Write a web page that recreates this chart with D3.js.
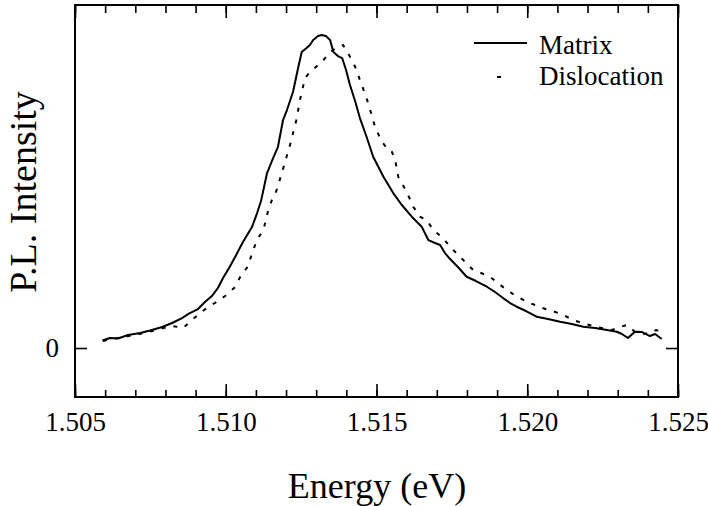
<!DOCTYPE html>
<html>
<head>
<meta charset="utf-8">
<script src="https://cdn.jsdelivr.net/npm/d3@7"></script>
<style>
  body { margin: 0; background: #fff; }
  svg text { font-family: "Liberation Serif", "DejaVu Serif", serif; fill: #000; }
</style>
</head>
<body>
<svg id="chart" width="708" height="506"></svg>
<script>
/* values (energy in eV, intensity in arbitrary units, peak ~100) */
const matrixEnergy = [
  1.50591, 1.50616, 1.50643, 1.50676, 1.50716, 1.50749, 1.50789, 1.50822, 1.50855, 1.50881,
  1.50908, 1.50931, 1.50954, 1.50974, 1.50991, 1.51011, 1.51031, 1.51057, 1.51087, 1.51104,
  1.51117, 1.51137, 1.51157, 1.51173, 1.51190, 1.51203, 1.51223, 1.51240, 1.51252, 1.51268,
  1.51279, 1.51290, 1.51306, 1.51318, 1.51332, 1.51346, 1.51357, 1.51372, 1.51386, 1.51399,
  1.51412, 1.51429, 1.51445, 1.51467, 1.51489, 1.51523, 1.51556, 1.51584, 1.51617, 1.51650,
  1.51672, 1.51694, 1.51711, 1.51727, 1.51744, 1.51770, 1.51799, 1.51830, 1.51866, 1.51893,
  1.51921, 1.51943, 1.51965, 1.51996, 1.52031, 1.52069, 1.52109, 1.52148, 1.52186, 1.52225,
  1.52264, 1.52297, 1.52314, 1.52334, 1.52357, 1.52381, 1.52407, 1.52424, 1.52446
];
const matrixIntensity = [
  2.40, 3.19, 3.04, 4.15, 4.79, 5.59, 6.71, 7.99, 9.58, 11.18,
  12.46, 14.70, 16.61, 19.17, 22.36, 25.56, 29.07, 33.87, 38.66, 43.13,
  46.96, 55.91, 60.70, 64.22, 72.84, 76.04, 81.79, 89.46, 94.57, 95.85,
  96.81, 98.40, 99.68, 100.0, 99.68, 98.40, 94.57, 93.29, 92.65, 88.82,
  84.03, 78.91, 73.48, 67.51, 61.12, 54.73, 49.43, 45.69, 41.95, 38.75,
  34.50, 33.55, 32.91, 30.35, 28.43, 25.88, 22.78, 21.41, 19.58, 17.89,
  15.88, 14.38, 13.19, 11.82, 10.00, 9.27, 8.40, 7.67, 6.81, 6.39,
  5.75, 5.21, 4.47, 3.19, 5.21, 5.11, 3.83, 4.47, 2.88
];
const dislocationEnergy = [
  1.50593, 1.50623, 1.50656, 1.50699, 1.50742, 1.50782, 1.50822, 1.50842, 1.50858, 1.50881,
  1.50892, 1.50915, 1.50941, 1.50964, 1.50998, 1.51031, 1.51051, 1.51064, 1.51070, 1.51087,
  1.51103, 1.51125, 1.51141, 1.51153, 1.51167, 1.51187, 1.51213, 1.51235, 1.51246, 1.51263,
  1.51279, 1.51299, 1.51324, 1.51346, 1.51366, 1.51389, 1.51409, 1.51429, 1.51445, 1.51467,
  1.51482, 1.51495, 1.51515, 1.51534, 1.51548, 1.51561, 1.51572, 1.51600, 1.51622, 1.51644,
  1.51667, 1.51688, 1.51716, 1.51749, 1.51777, 1.51804, 1.51821, 1.51847, 1.51876, 1.51903,
  1.51932, 1.51963, 1.51998, 1.52026, 1.52053, 1.52085, 1.52120, 1.52152, 1.52186, 1.52218,
  1.52252, 1.52281, 1.52308, 1.52330, 1.52357, 1.52381, 1.52407, 1.52427, 1.52446
];
const dislocationIntensity = [
  2.24, 2.88, 3.51, 4.15, 5.11, 6.07, 7.03, 6.71, 6.39, 8.31,
  9.27, 11.18, 13.10, 14.38, 16.61, 19.49, 23.32, 24.92, 25.56, 30.03,
  34.50, 37.70, 44.09, 47.28, 49.94, 56.23, 64.86, 73.16, 79.23, 86.26,
  88.18, 89.78, 92.01, 94.57, 95.85, 96.81, 93.61, 89.87, 85.62, 79.87,
  75.08, 70.70, 66.45, 63.80, 63.26, 60.61, 54.73, 49.94, 45.14, 41.95,
  40.89, 37.70, 35.56, 31.85, 29.17, 26.52, 24.92, 23.96, 22.78, 20.77,
  18.53, 16.61, 14.79, 13.74, 12.68, 11.82, 10.54, 8.95, 7.89, 7.03,
  6.29, 5.75, 6.71, 7.35, 5.21, 4.47, 4.70, 5.75, 5.27
];
const majorTicks = [1.505, 1.510, 1.515, 1.520, 1.525];
const minorTicks = d3.range(0, 21).map(i => +(1.505 + i * 0.001).toFixed(3));
const yTicks = [0];
const seriesNames = ["Matrix", "Dislocation"];

const svg = d3.select("#chart");
const frame = { left: 75, right: 678, top: 5, bottom: 397 };

const x = d3.scaleLinear().domain([1.505, 1.525]).range([frame.left, frame.right]);
const y = d3.scaleLinear().domain([-15.65, 109.6]).range([frame.bottom, frame.top]);

/* ticks: all pointing inward */
function styleAxis(sel) {
  sel.select(".domain").remove();
  sel.selectAll(".tick line").attr("stroke", "#000").attr("stroke-width", 1.6);
  sel.selectAll(".tick text").style("font-size", "27px").attr("fill", "#000");
}

svg.append("g").attr("transform", `translate(0,${frame.bottom})`)
  .call(d3.axisBottom(x).tickValues(minorTicks).tickSize(-7).tickFormat(""))
  .call(styleAxis);
svg.append("g").attr("transform", `translate(0,${frame.bottom})`)
  .call(d3.axisBottom(x).tickValues(majorTicks).tickSize(-13).tickPadding(15).tickFormat(d3.format(".3f")))
  .call(styleAxis);
svg.append("g").attr("transform", `translate(0,${frame.top})`)
  .call(d3.axisTop(x).tickValues(minorTicks).tickSize(-8).tickFormat(""))
  .call(styleAxis);
svg.append("g").attr("transform", `translate(0,${frame.top})`)
  .call(d3.axisTop(x).tickValues(majorTicks).tickSize(-13).tickFormat(""))
  .call(styleAxis);
svg.append("g").attr("transform", `translate(${frame.left},0)`)
  .call(d3.axisLeft(y).tickValues(yTicks).tickSize(-12).tickPadding(16))
  .call(styleAxis);
svg.append("g").attr("transform", `translate(${frame.right},0)`)
  .call(d3.axisRight(y).tickValues(yTicks).tickSize(-12).tickFormat(""))
  .call(styleAxis);

svg.append("rect")
  .attr("x", frame.left).attr("y", frame.top)
  .attr("width", frame.right - frame.left).attr("height", frame.bottom - frame.top)
  .attr("fill", "none").attr("stroke", "#000").attr("stroke-width", 2);

/* curves */
const matrix = matrixEnergy.map((e, i) => ({ e, v: matrixIntensity[i] }));
const dislocation = dislocationEnergy.map((e, i) => ({ e, v: dislocationIntensity[i] }));
const line = d3.line().x(d => x(d.e)).y(d => y(d.v));

svg.append("path").datum(matrix)
  .attr("fill", "none").attr("stroke", "#000").attr("stroke-width", 2)
  .attr("stroke-linejoin", "round").attr("d", line);
svg.append("path").datum(dislocation)
  .attr("fill", "none").attr("stroke", "#000").attr("stroke-width", 2)
  .attr("stroke-dasharray", "4,8").attr("d", line);

/* legend */
const legend = svg.append("g");
legend.append("line").attr("x1", 474).attr("x2", 527).attr("y1", 43).attr("y2", 43)
  .attr("stroke", "#000").attr("stroke-width", 2);
legend.append("line").attr("x1", 497).attr("x2", 501).attr("y1", 77).attr("y2", 77)
  .attr("stroke", "#000").attr("stroke-width", 2);
legend.selectAll("text.leg").data(seriesNames).join("text")
  .attr("class", "leg")
  .attr("x", 539).attr("y", (d, i) => 54 + i * 31)
  .style("font-size", "27px").text(d => d);

/* axis titles */
svg.append("text").attr("x", 377).attr("y", 498).attr("text-anchor", "middle")
  .style("font-size", "36px").text("Energy (eV)");
svg.append("text").attr("transform", "rotate(-90)").attr("x", -192).attr("y", 36)
  .attr("text-anchor", "middle").style("font-size", "38px").text("P.L. Intensity");
</script>
</body>
</html>
